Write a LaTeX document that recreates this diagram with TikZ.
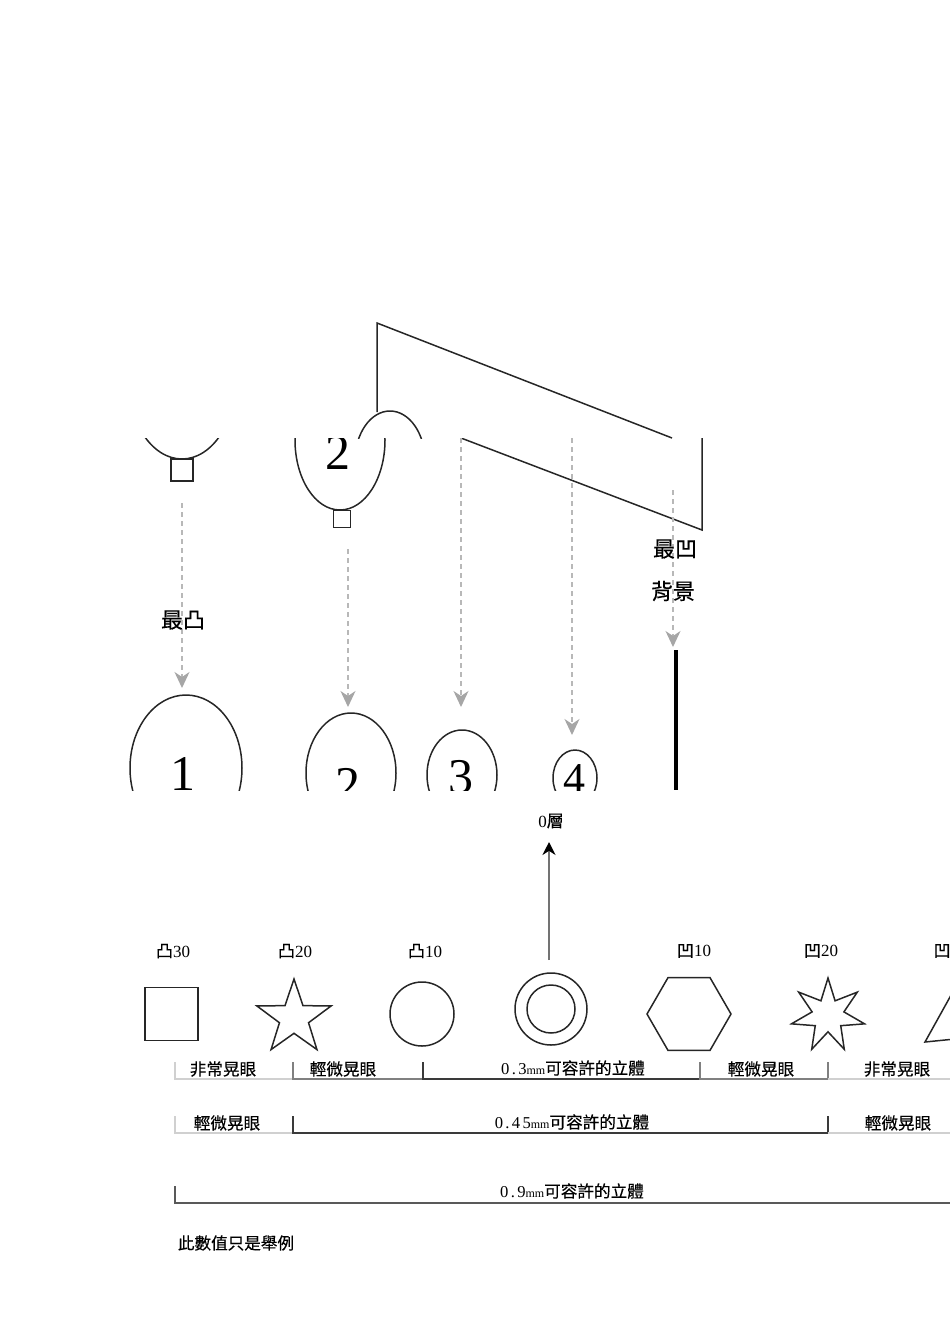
\documentclass[tikz,border=0pt]{standalone}
\usepackage{fontspec}
\setmainfont{Liberation Serif}
\newfontfamily\cjk[FakeBold=0.35]{Noto Sans CJK TC}
\usetikzlibrary{arrows.meta,shapes.geometric}
\definecolor{lightrule}{HTML}{D0D0D0}
\definecolor{midrule}{HTML}{808080}
\definecolor{darkrule}{HTML}{3A3A3A}
\tikzset{
  outline/.style={draw=black!85,line width=1.5pt},
  figure/.style={font=\fontsize{50}{50}\selectfont,inner sep=0pt},
  droparrow/.style={draw=black!28,line width=1.4pt,dashed,dash pattern=on 5pt off 4pt,
    -{Stealth[width=15pt,length=16pt,inset=5pt,black!35]}},
  bigcjk/.style={font=\fontsize{22}{22}\selectfont\cjk,inner sep=0pt},
  levelcjk/.style={font=\fontsize{17}{17}\selectfont,inner sep=0pt},
  rangecjk/.style={font=\fontsize{16.6}{17}\selectfont\cjk,inner sep=0pt},
  lightbar/.style={draw=lightrule,line width=1.5pt},
  midbar/.style={draw=midrule,line width=1.5pt},
  darkbar/.style={draw=darkrule,line width=1.5pt},
}
\newcommand{\rangelabel}[1]{{\rmfamily\addfontfeature{LetterSpace=14}#1}{\rmfamily\fontsize{12}{12}\selectfont mm}可容許的立體}
\begin{document}
\begin{tikzpicture}[x=1pt,y=-1pt]
\useasboundingbox (0,0) rectangle (950,1344);

% Upper strip of the slanted plate
\begin{scope}
\clip (340,300) rectangle (702,438);
\draw[outline] (377,412) -- (377,323) -- (672,438);
\draw[outline] (390,461) ellipse (35 and 50);
\end{scope}

% Middle strip
\begin{scope}
\clip (0,438) rectangle (950,790);
\draw[outline] (461,438) -- (702,530) -- (702,438);
\draw[outline] (182,375) ellipse (55 and 84);
\draw[outline] (340,440) ellipse (45 and 70);
\node[figure] (twoback) at (338,453) {2};
\node[draw=black!85,line width=1.5pt,minimum size=22pt,inner sep=0pt] (tabone) at (182,470) {};
\node[draw=black!85,line width=1.5pt,minimum size=17pt,inner sep=0pt] (tabtwo) at (342,519) {};

% Drop arrows
\foreach \name/\x/\from/\to in {one/182/503/688,two/348/549/707,three/461/438/707,four/572/438/735,back/673/490/647}{
  \coordinate (\name top) at (\x,\from);
  \coordinate (\name end) at (\x,\to);
  \draw[droparrow] (\name top) -- (\name end);
}

% Front outlines
\draw[outline] (186,768) ellipse (56 and 73);
\draw[outline] (351,773) ellipse (45 and 60);
\draw[outline] (462,775) ellipse (35 and 45);
\draw[outline] (575,778) ellipse (22 and 28);
\node[figure] (onefront) at (183,774) {1};
\node[figure] (twofront) at (348,785) {2};
\node[figure] (threefront) at (461,777) {3};
\node[figure,font=\fontsize{44}{44}\selectfont] (fourfront) at (574,779) {4};
\coordinate (linetop) at (676,650);
\coordinate (linebottom) at (676,790);
\draw[black,line width=3.2pt] (linetop) -- (linebottom);
\end{scope}

\node[bigcjk] (mosthigh) at (183,620) {最凸};
\node[bigcjk] (mostlow) at (675,549) {最凹};
\node[bigcjk] (backdrop) at (673,591) {背景};

% Zero level arrow
\coordinate (zerotail) at (549,960);
\coordinate (zerohead) at (549,842);
\node[levelcjk] (zerolabel) at (551,821) {0{\cjk 層}};
\draw[draw=black!55,line width=1.8pt,-{Stealth[width=13pt,length=13pt,black]}] (zerotail) -- (zerohead);

% Level labels
\node[levelcjk] (up30) at (173,951) {{\cjk 凸}30};
\node[levelcjk] (up20) at (295,951) {{\cjk 凸}20};
\node[levelcjk] (up10) at (425,951) {{\cjk 凸}10};
\node[levelcjk] (down10) at (694,951) {{\cjk 凹}10};
\node[levelcjk] (down20) at (821,951) {{\cjk 凹}20};
\node[levelcjk,anchor=west] (down30) at (933.5,951) {{\cjk 凹}};

% Shapes
\node[outline,minimum size=53pt,inner sep=0pt] (square) at (171.5,1014) {};
\node[outline,star,star points=5,star point ratio=2.55,minimum size=78pt,inner sep=0pt] (fivestar) at (294,1018) {};
\node[outline,circle,minimum size=64pt,inner sep=0pt] (disc) at (422,1014) {};
\node[outline,circle,minimum size=72pt,inner sep=0pt] (ringout) at (551,1009) {};
\node[outline,circle,minimum size=48pt,inner sep=0pt] (ringin) at (551,1009) {};
\node[outline,regular polygon,regular polygon sides=6,minimum size=84pt,inner sep=0pt] (hexagon) at (689,1014) {};
\node[outline,star,star points=7,star point ratio=2.3,minimum size=75pt,inner sep=0pt] (sevenstar) at (828,1015.5) {};

% Cut off at the right edge
\begin{scope}
\clip (900,930) rectangle (950,1060);
\draw[outline] (965,970) -- (925,1042) -- (965,1038);
\end{scope}

% Row one
\draw[lightbar] (175,1062) -- (175,1079) -- (293,1079);
\draw[midbar] (293,1062) -- (293,1079) -- (423,1079);
\draw[darkbar] (423,1062) -- (423,1079) -- (700,1079);
\draw[midbar] (700,1062) -- (700,1079) -- (828,1079) -- (828,1062);
\draw[lightbar] (828,1079) -- (950,1079);
\node[rangecjk] (glareA) at (223,1069) {非常晃眼};
\node[rangecjk] (mildA) at (343,1069) {輕微晃眼};
\node[rangecjk] (safeA) at (573,1068) {\rangelabel{0.3}};
\node[rangecjk] (mildB) at (761,1069) {輕微晃眼};
\node[rangecjk] (glareB) at (897,1069) {非常晃眼};

% Row two
\draw[lightbar] (175,1116) -- (175,1133) -- (293,1133);
\draw[darkbar] (293,1116) -- (293,1133) -- (828,1133) -- (828,1116);
\draw[lightbar] (828,1133) -- (950,1133);
\node[rangecjk] (mildC) at (227,1123) {輕微晃眼};
\node[rangecjk] (safeB) at (572,1122) {\rangelabel{0.45}};
\node[rangecjk] (mildD) at (898,1123) {輕微晃眼};

% Row three
\draw[darkbar,draw=black!65] (175,1186) -- (175,1203) -- (950,1203);
\node[rangecjk] (safeC) at (572,1191) {\rangelabel{0.9}};

\node[rangecjk] (note) at (236,1243) {此數值只是舉例};
\end{tikzpicture}
\end{document}
